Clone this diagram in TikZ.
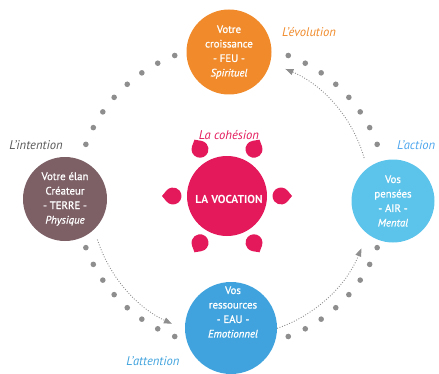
\documentclass[tikz,border=0pt]{standalone}
\usepackage{fontspec}
\setmainfont{PT Sans}
\newfontfamily\medfont{PT Sans}[FakeBold=0.9]
\usetikzlibrary{arrows.meta,calc}
\definecolor{corange}{HTML}{F08A2A}
\definecolor{cmauve}{HTML}{7C6066}
\definecolor{cpink}{HTML}{E3195B}
\definecolor{csky}{HTML}{5CC3EA}
\definecolor{cblue}{HTML}{41A3DD}
\definecolor{cdot}{HTML}{8E8E8E}
\definecolor{clabel}{HTML}{5A5A5A}
\begin{document}
\begin{tikzpicture}[x=1pt,y=1pt,
  bubble/.style={circle,fill=#1,inner sep=0pt,text=white,align=center,
    font=\medfont\fontsize{10.8}{14.5}\selectfont},
  btext/.style={inner sep=0pt,text=white,align=center,
    font=\medfont\fontsize{10.8}{14.5}\selectfont},
  lbl/.style={font=\fontsize{12.6}{14}\selectfont\itshape,inner sep=0pt},
  flow/.style={draw=cdot,line width=0.9pt,dash pattern=on 0.9pt off 1.7pt,
    -{Triangle[length=8pt,width=6pt,fill=cdot]}},
  petal/.style={fill=cpink}]
\clip (0,0) rectangle (439,373);
\useasboundingbox (0,0) rectangle (439,373);
\coordinate (C) at (231.5,177);
% dots
\foreach \k in {0,...,7}{
  \pgfmathsetmacro\t{20+6.93*\k}
  \foreach \s in {\t,180-\t,180+\t,-\t}
    \fill[cdot,shift={(C)}] ({155*cos(\s)},{151*sin(\s)}) circle (2.8);
}
% circles
\node[bubble=corange,minimum size=85pt] (feu) at (229,321)
  {Votre\\croissance\\- FEU -\\\textit{Spirituel}};
\node[bubble=cmauve,minimum size=84pt] (terre) at (65,174)
  {Votre élan\\Créateur\\- TERRE -\\\textit{Physique}};
\node[bubble=csky,minimum size=83pt] (air) at (393,172)
  {Vos\\pensées\\- AIR -\\\textit{Mental}};
\node[bubble=cblue,minimum size=92pt] (eau) at (231,45) {};
\node[btext] (eautext) at (233,61) {Vos\\ressources\\- EAU -\\\textit{Emotionnel}};
\node[circle,fill=cpink,minimum size=80pt,inner sep=0pt] (voc) at (227,177) {};
\node[text=white,inner sep=0pt,font=\bfseries\fontsize{11.5}{13}\selectfont] (voctext) at (229,174) {LA VOCATION};
% petals
\foreach \a in {0,60,...,300}
  \fill[petal,shift={(227,177)},rotate=\a]
    (65,0) -- (60.57,5.40) arc[start angle=39.4,end angle=320.6,radius=8.5] -- cycle;
% labels
\node[lbl,text=corange] (levo) at (309,341) {L’évolution};
\node[lbl,text=clabel] (lint) at (36,228) {L’intention};
\node[lbl,text=csky!85!blue,anchor=west] (lact) at (397,228) {L’action};
\node[lbl,text=cblue] (latt) at (153,12) {L’attention};
\node[lbl,text=cpink] (lcoh) at (229,238) {La cohésion};
% arrows
\coordinate (s1) at ($(C)+(16:138)$);
\coordinate (s2) at ($(C)+(198:141)$);
\coordinate (s3) at ($(C)+(-71:140)$);
\draw[flow] (s1) arc[start angle=16,end angle=67,radius=138];
\draw[flow] (s2) arc[start angle=198,end angle=245,radius=141];
\draw[flow] (s3) arc[start angle=-71,end angle=-22,radius=140];
\end{tikzpicture}
\end{document}
